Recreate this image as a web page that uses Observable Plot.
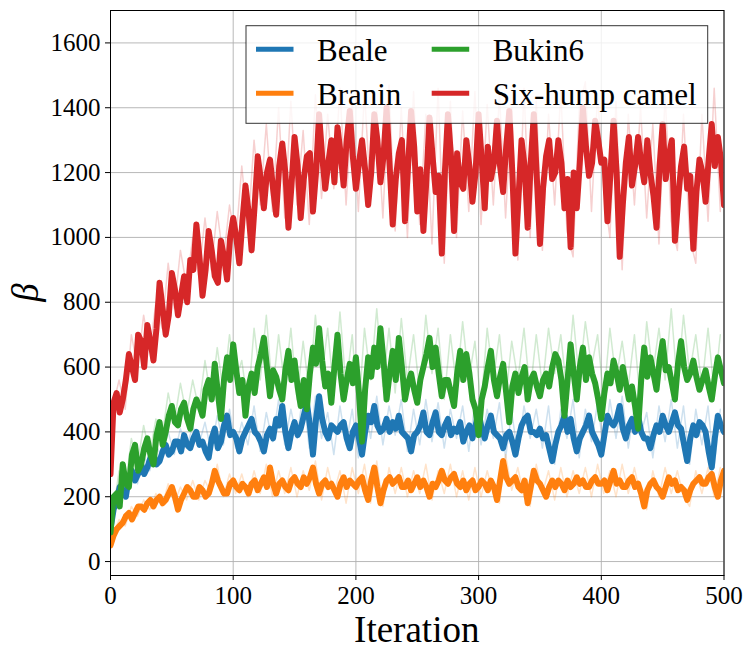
<!DOCTYPE html>
<html><head><meta charset="utf-8">
<script src="https://cdn.jsdelivr.net/npm/d3@7"></script>
<script src="https://cdn.jsdelivr.net/npm/@observablehq/plot@0.6"></script>
<style>body{margin:0;background:#fff} svg{display:block}</style>
</head><body><div id="chart"></div>
<script>
const seriesNames = ["Beale", "Branin", "Bukin6", "Six-hump camel"];
const seriesColors = ["#1f77b4", "#ff7f0e", "#2ca02c", "#d62728"];
const xTicks = [0, 100, 200, 300, 400, 500];
const yTicks = [0, 200, 400, 600, 800, 1000, 1200, 1400, 1600];
const xLabel = "Iteration";
const yLabel = "β";

// smoothed curves: values at iterations 0,5,...,500 (A) and 2.5,7.5,...,497.5 (B)
const bealeSmoothA = [100,190,220,260,250,300,290,330,310,360,
340,370,390,350,400,370,320,410,370,450,
400,340,400,440,390,340,410,440,480,350,
430,410,490,330,510,400,420,400,430,350,
420,330,450,480,400,440,430,450,390,340,
400,460,390,460,390,440,410,430,400,380,
460,380,450,390,350,400,330,420,450,400,
410,390,310,400,450,440,340,400,450,380,
330,450,420,480,380,440,450,380,350,420,
450,400,460,410,310,420,430,400,290,450,
400];
const bealeSmoothB = [160,230,200,280,270,270,320,300,340,330,
370,340,360,380,360,340,380,350,420,390,
380,380,420,400,370,390,380,420,400,400,
390,450,420,440,440,380,410,420,380,400,
380,400,430,420,410,400,410,400,380,390,
420,400,430,400,420,390,400,370,420,420,
410,420,400,380,390,370,380,440,400,390,
380,350,360,420,400,380,380,420,400,360,
390,430,440,410,420,400,400,380,390,400,
420,430,420,360,380,390,420,340,380,420];
const braninSmoothA = [50,100,120,150,150,170,180,170,200,190,
230,160,210,220,200,220,210,280,230,210,
250,220,230,240,220,260,290,210,250,220,
260,230,240,290,210,250,240,200,260,250,
230,260,190,290,180,250,240,260,230,220,
260,250,200,230,280,240,270,230,220,250,
230,240,250,190,310,240,260,220,180,280,
240,200,250,250,220,230,260,250,230,260,
240,220,280,250,230,260,240,170,240,230,
200,260,250,230,190,240,260,240,270,200,
280];
const braninSmoothB = [80,110,140,130,170,160,190,190,180,210,
200,190,230,200,230,200,240,250,210,240,
230,240,210,250,240,230,240,240,230,250,
240,260,260,240,240,230,220,240,230,240,
250,220,250,230,220,260,250,230,250,240,
230,230,240,250,250,260,240,250,240,220,
250,220,230,250,260,250,230,250,230,250,
220,230,230,240,250,240,240,230,250,240,
250,250,240,230,250,230,210,220,250,220,
230,240,220,220,220,250,240,260,230,250];
const bukinSmoothA = [90,210,300,230,360,300,380,300,430,400,
480,420,490,410,500,450,560,610,440,630,
670,520,450,580,600,690,510,570,500,650,
620,480,470,660,720,540,490,700,500,610,
630,370,630,660,720,500,650,690,500,580,
490,600,690,660,510,560,480,650,640,500,
390,540,650,510,610,430,580,570,500,580,
510,580,600,620,450,670,500,660,630,550,
440,580,620,530,550,540,410,660,630,530,
680,600,500,680,560,620,530,590,500,630,
550];
const bukinSmoothB = [200,170,240,330,280,350,330,390,360,450,
430,470,440,470,480,530,500,520,560,560,
590,560,540,520,640,600,590,530,590,560,
540,560,580,610,620,580,600,580,560,550,
520,530,570,600,620,580,560,600,550,530,
560,640,600,580,560,520,580,560,580,470,
500,600,560,570,520,540,520,600,560,540,
560,540,640,560,560,580,600,560,580,500,
520,550,580,600,500,480,560,570,580,620,
590,550,610,600,580,570,560,540,570,590];
const camelSmoothA = [270,520,500,640,560,680,730,620,860,700,
890,760,880,930,1040,820,1020,880,990,870,
1060,920,1160,960,1250,1090,1240,1070,1290,1030,
1310,1060,1250,1080,1380,1150,1300,1340,1160,1390,
1150,1300,1100,1380,1170,1400,1040,1260,1050,1390,
1080,1020,1370,1140,950,1380,1020,1170,1300,1110,
1380,1090,1180,1360,1140,1390,950,1300,1030,1380,
980,1250,1180,1300,1090,970,1090,1400,1190,1360,
1230,1050,1360,940,1230,1160,1310,1170,1200,1030,
1350,1250,990,1220,1150,965,1240,1110,1350,1310,
1100];
const camelSmoothB = [490,460,560,600,700,600,680,720,780,760,
840,820,800,900,940,900,960,860,940,1000,
1000,1050,1080,1100,1180,1200,1150,1220,1200,1160,
1220,1180,1260,1200,1250,1230,1170,1260,1300,1250,
1230,1210,1200,1300,1250,1220,1180,1300,1220,1280,
1210,1180,1250,1190,1200,1250,1260,1150,1220,1200,
1240,1280,1230,1220,1280,1200,1120,1220,1230,1180,
1150,1300,1200,1230,1180,1200,1230,1280,1230,1300,
1240,1200,1200,1100,1310,1220,1230,1300,1130,1220,
1180,1300,1110,1280,1190,1140,1200,1240,1220,1240];

// raw (faint) curves, iterations 2,7,...,497
const iterRaw = d3.range(2, 500, 5);
const bealeRaw = [140,240,200,300,240,330,280,360,320,400,
330,410,350,420,360,430,340,450,360,470,
350,430,360,480,340,460,370,500,360,470,
380,520,350,510,380,460,330,480,360,470,
320,490,380,510,360,480,390,500,340,470,
360,500,370,490,350,470,380,480,340,490,
360,470,380,490,320,460,330,480,380,470,
350,480,300,470,380,500,320,470,370,490,
340,500,380,510,350,480,390,460,320,480,
370,500,350,480,300,470,360,480,290,470];
const braninRaw = [80,130,110,170,140,190,160,210,170,240,
180,230,190,250,190,250,210,300,200,270,
210,270,200,280,210,300,200,280,210,290,
200,280,220,310,190,290,210,280,180,290,
210,300,180,310,170,290,210,290,200,280,
210,300,190,280,210,300,200,280,190,290,
200,280,210,180,330,220,290,200,170,300,
210,280,190,290,200,280,210,290,200,300,
210,280,200,300,210,290,200,160,280,200,
290,210,280,200,170,280,210,290,200,290];
const bukinRaw = [150,280,220,380,300,420,330,440,380,520,
430,550,450,560,470,620,500,660,520,700,
560,620,480,720,560,760,520,700,540,720,
500,680,520,760,560,720,520,770,540,700,
450,720,560,780,540,720,520,750,560,700,
520,760,580,720,500,700,540,740,560,680,
480,720,560,700,500,680,560,720,520,700,
540,720,580,700,520,760,560,740,600,700,
500,720,560,680,540,700,480,740,580,720,
560,780,540,760,580,700,540,720,520,700];
const camelRaw = [480,560,470,700,600,760,650,800,720,920,
780,960,850,1000,880,1060,900,1080,930,1100,
980,1220,1020,1300,1100,1350,1080,1400,1060,1420,
1100,1330,1040,1440,1120,1380,1150,1460,1100,1420,
1080,1450,1120,1390,1060,1470,1020,1400,1000,1450,
1040,1380,980,1460,920,1420,1000,1390,1080,1450,
1040,1410,1100,1440,1060,1400,930,1460,1000,1420,
960,1380,1100,1450,1020,940,1400,1480,1080,1440,
1150,1000,1420,900,1380,1100,1400,1060,1350,980,
1440,1050,960,1380,1000,920,1380,1050,1460,1080];

const smoothA = [bealeSmoothA, braninSmoothA, bukinSmoothA, camelSmoothA];
const smoothB = [bealeSmoothB, braninSmoothB, bukinSmoothB, camelSmoothB];
const rawSets = [bealeRaw, braninRaw, bukinRaw, camelRaw];

function mergeSmooth(a, b) {
  const rows = [];
  a.forEach((v, k) => {
    rows.push({it: 5 * k, v});
    if (k < b.length) rows.push({it: 5 * k + 2.5, v: b[k]});
  });
  return rows;
}

const seriesMarks = [];
seriesNames.forEach((name, i) => {
  const raw = iterRaw.map((it, j) => ({it, v: rawSets[i][j]}));
  const smooth = mergeSmooth(smoothA[i], smoothB[i]);
  seriesMarks.push(Plot.line(raw, {x: "it", y: "v", stroke: seriesColors[i], strokeWidth: 1.5, strokeOpacity: 0.22, clip: true}));
  seriesMarks.push(Plot.line(smooth, {x: "it", y: "v", stroke: seriesColors[i], strokeWidth: 6, strokeLinejoin: "round", clip: true}));
});

const FONT = "'Liberation Serif', 'DejaVu Serif', serif";
const fmt = d3.format("d");
const svg = Plot.plot({
  width: 753, height: 658,
  marginLeft: 110, marginRight: 29.5, marginTop: 10, marginBottom: 83,
  style: {fontFamily: FONT, background: "white", color: "black", overflow: "visible"},
  x: {domain: [0, 500]},
  y: {domain: [-43, 1700]},
  marks: [
    Plot.gridX(xTicks, {stroke: "#b0b0b0", strokeOpacity: 1, strokeWidth: 0.9}),
    Plot.gridY(yTicks, {stroke: "#b0b0b0", strokeOpacity: 1, strokeWidth: 0.9}),
    ...seriesMarks,
    Plot.frame({stroke: "black", strokeWidth: 1}),
    Plot.axisX(xTicks, {tickSize: 5, tickPadding: 6, fontSize: 25, fontFamily: FONT, tickFormat: fmt, label: null}),
    Plot.axisY(yTicks, {tickSize: 5, tickPadding: 5, fontSize: 25, fontFamily: FONT, tickFormat: fmt, label: null})
  ]
});

const s = d3.select(svg);
s.append("text").attr("x", 416.75).attr("y", 641.7).attr("text-anchor", "middle")
  .style("font-size", "37px").style("font-family", FONT).attr("fill", "black").text(xLabel);
s.append("text").attr("transform", "translate(38,292.5) rotate(-90)").attr("text-anchor", "middle")
  .style("font-size", "37px").style("font-style", "italic").style("font-family", FONT).attr("fill", "black").text(yLabel);

// legend
const lg = s.append("g");
lg.append("rect").attr("x", 246).attr("y", 25.7).attr("width", 461.7).attr("height", 97.6)
  .attr("fill", "white").attr("fill-opacity", 0.8).attr("stroke", "black").attr("stroke-opacity", 0.8).attr("stroke-width", 1);
const colX = [256, 431.7];
const rowY = [49.2, 93.3];
seriesNames.forEach((name, i) => {
  const c = Math.floor(i / 2), r = i % 2;
  lg.append("line").attr("x1", colX[c]).attr("x2", colX[c] + 37.5).attr("y1", rowY[r]).attr("y2", rowY[r])
    .attr("stroke", seriesColors[i]).attr("stroke-width", 5);
  lg.append("text").attr("x", colX[c] + 61).attr("y", rowY[r] + 11.5).attr("text-anchor", "start")
    .style("font-size", "31px").style("font-family", FONT).attr("fill", "black").text(name);
});

document.getElementById("chart").appendChild(svg);
</script>
</body></html>
